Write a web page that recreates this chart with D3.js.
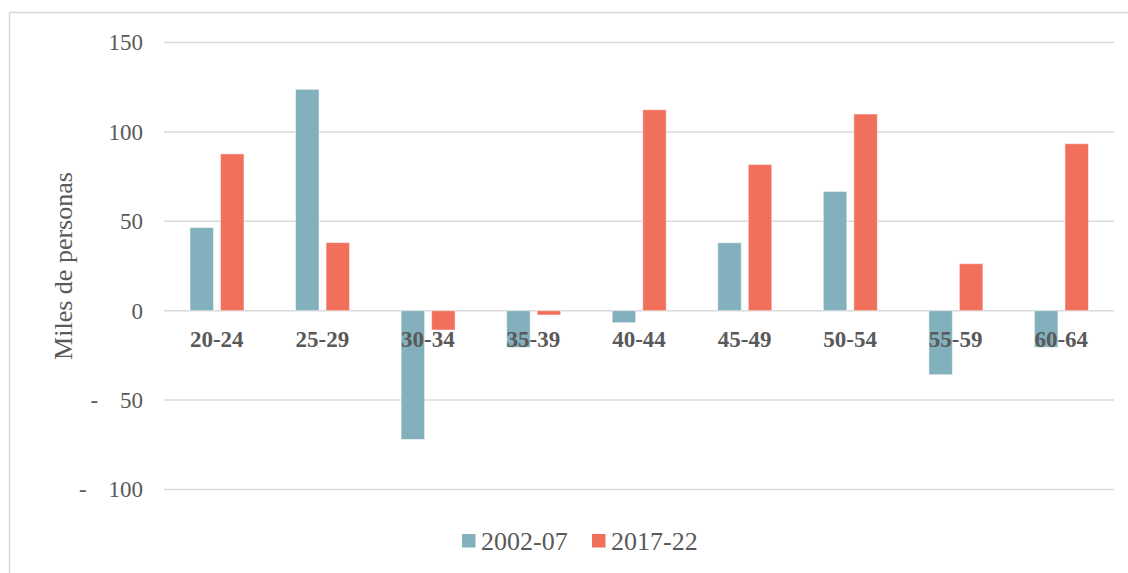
<!DOCTYPE html>
<html>
<head>
<meta charset="utf-8">
<script src="https://cdn.jsdelivr.net/npm/d3@7"></script>
<style>
  html, body { margin: 0; padding: 0; background: #fff; }
  svg { display: block; }
  text { font-family: "Liberation Serif", "Times New Roman", serif; fill: #595959; }
</style>
</head>
<body>
<svg id="chart" width="1128" height="573"></svg>
<script>
const categories = ["20-24", "25-29", "30-34", "35-39", "40-44", "45-49", "50-54", "55-59", "60-64"];
const seriesNames = ["2002-07", "2017-22"];
const values2002 = [46.5, 123.8, -72, -20.5, -6.7, 38, 66.7, -35.8, -20.5];
const values2017 = [87.7, 38.1, -10.8, -2.4, 112.4, 81.8, 110, 26.3, 93.4];
const yTicks = [-100, -50, 0, 50, 100, 150];
const colors = ["#82B0BC", "#F0705C"];
const yTitle = "Miles de personas";

const svg = d3.select("#chart");

// outer border
svg.append("rect")
  .attr("x", 9.5).attr("y", 12.5)
  .attr("width", 1140).attr("height", 600)
  .attr("fill", "none").attr("stroke", "#D9D9D9").attr("stroke-width", 1.5);

const x = d3.scaleBand().domain(categories).range([164, 1114]).padding(0);
const xs = d3.scaleBand().domain(seriesNames).range([26, 80]).paddingInner(0.23).paddingOuter(0);
const y = d3.scaleLinear().domain([-100, 150]).range([489.5, 42.5]);

// gridlines
svg.append("g").selectAll("line").data(yTicks).join("line")
  .attr("x1", 164).attr("x2", 1114)
  .attr("y1", d => y(d)).attr("y2", d => y(d))
  .attr("stroke", "#D9D9D9").attr("stroke-width", 1.5);

// y axis labels
const yAxis = d3.axisLeft(y).tickValues(yTicks).tickSize(0).tickPadding(21)
  .tickFormat(d => d < 0 ? "-\u00a0\u00a0\u00a0\u2009" + Math.abs(d) : String(d));
const gy = svg.append("g").attr("transform", "translate(164,0)").call(yAxis);
gy.select(".domain").remove();
gy.selectAll("text")
  .attr("font-family", "Liberation Serif")
  .style("font-size", "23px")
  .style("fill", "#595959");

// bars
const data = seriesNames.map((s, i) => ({
  name: s, color: colors[i],
  values: categories.map((c, j) => ({ cat: c, v: (i === 0 ? values2002 : values2017)[j] }))
}));

const groups = svg.append("g").selectAll("g").data(data).join("g")
  .attr("fill", d => d.color);
groups.each(function(s) {
  d3.select(this).selectAll("rect").data(s.values).join("rect")
    .attr("x", d => x(d.cat) + xs(s.name))
    .attr("width", xs.bandwidth())
    .attr("y", d => y(Math.max(0, d.v)))
    .attr("height", d => Math.abs(y(d.v) - y(0)))
    .attr("stroke", "#fff").attr("stroke-opacity", 0.5).attr("stroke-width", 1);
});

// category labels (drawn over bars)
const xAxis = d3.axisBottom(x).tickSize(0).tickPadding(0);
const gx = svg.append("g").attr("transform", `translate(0,${y(0)})`).call(xAxis);
gx.select(".domain").remove();
gx.selectAll("text")
  .attr("y", 0).attr("dy", 0)
  .attr("transform", "translate(0,36.5)")
  .attr("font-family", "Liberation Serif")
  .style("font-size", "23px")
  .style("font-weight", "bold")
  .style("fill", "#595959");

// y title
svg.append("text")
  .attr("transform", "translate(72,266) rotate(-90)")
  .attr("text-anchor", "middle")
  .style("font-size", "26px")
  .text(yTitle);

// legend
const legend = svg.append("g");
const legendX = [462, 592];
seriesNames.forEach((s, i) => {
  legend.append("rect")
    .attr("x", legendX[i]).attr("y", 534)
    .attr("width", 13.5).attr("height", 13.5)
    .attr("fill", colors[i]);
  legend.append("text")
    .attr("x", legendX[i] + 19).attr("y", 550)
    .style("font-size", "26px")
    .text(s);
});
</script>
</body>
</html>
